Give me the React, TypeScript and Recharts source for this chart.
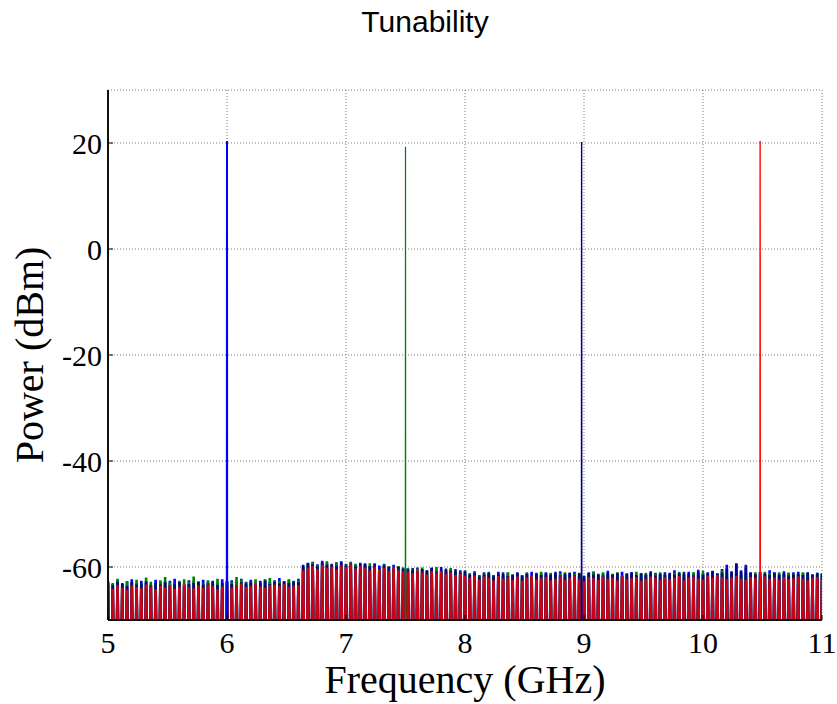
import { LineChart, Line, XAxis, YAxis, CartesianGrid } from 'recharts'

// sweep grid of the analyser (GHz) and the level the trace drops to between readings
const START_GHZ = 5
const STEP_GHZ = 0.04
const DIP_DBM = -100

const X_TICKS = [5, 6, 7, 8, 9, 10, 11]
const Y_TICKS = [-60, -40, -20, 0, 20]

// noise floor readings, one per sweep point (5.00 .. 11.00 GHz)
const BLUE_FLOOR = [
  -62.8, -63.2, -62.5, -63.0, -62.7, -62.3, -63.1, -62.6, -62.9, -63.3,
  -62.4, -62.8, -63.0, -62.6, -62.2, -62.9, -63.2, -62.5, -62.7, -63.0,
  -62.4, -62.8, -62.6, -63.1, -62.3, -62.9, -62.5, -62.7, -62.2, -62.8,
  -62.4, -63.0, -62.6, -62.3, -62.8, -62.5, -62.1, -62.7, -62.4, -62.6,
  -62.2,
  -59.6, -59.2, -59.0, -59.5, -58.8, -59.3, -59.7, -59.1, -58.9, -59.4,
  -59.0, -59.6, -59.2, -59.5, -59.8, -59.3, -59.7, -59.4, -60.0, -59.6,
  -59.9, -60.1,
  -60.3, -60.6, -60.1, -60.4, -60.8, -60.2, -60.5, -60.0, -60.7, -60.4,
  -60.9, -60.6, -61.0,
  -61.2, -60.8, -61.5, -61.0, -61.3, -61.6, -60.9, -61.4, -61.1, -61.5,
  -61.0, -61.7, -61.2, -60.9, -61.4, -61.3, -61.0, -61.6, -61.2, -60.8,
  -61.5, -61.1, -60.9, -61.4, -61.8, -61.2, -61.0, -61.5, -61.3, -60.7,
  -61.4, -61.1, -60.9, -61.3, -61.0, -61.6, -61.2, -61.4, -60.8, -61.1,
  -61.5, -61.0, -61.3, -60.6, -61.2, -61.4, -60.9, -61.1, -60.5, -61.3,
  -61.0, -60.7, -61.2, -60.4, -59.6, -60.8, -59.4, -60.9, -60.2, -61.0,
  -61.3, -60.9, -61.2, -60.6, -61.0, -61.4, -60.8, -61.1, -61.5, -60.9,
  -61.2, -61.0, -61.4, -61.1, -61.3,
]

const GREEN_FLOOR = [
  -62.6, -63.0, -62.2, -63.3, -62.7, -62.9, -62.4, -63.1, -62.0, -62.8,
  -63.2, -62.5, -61.9, -62.9, -63.0, -62.6, -62.3, -62.8, -61.8, -62.7,
  -63.1, -62.5, -62.9, -62.2, -63.0, -62.6, -62.8, -61.9, -62.4, -62.9,
  -62.7, -62.3, -63.0, -62.5, -62.1, -62.8, -62.6, -62.9, -62.3, -62.7,
  -62.5,
  -59.9, -59.4, -59.1, -59.7, -59.3, -58.9, -59.6, -59.2, -59.8, -59.5,
  -59.1, -59.4, -59.9, -59.6, -59.3, -59.8, -60.0, -59.5, -59.9, -60.2,
  -59.8, -60.3,
  -60.2, -60.7, -60.3, -60.1, -60.6, -60.4, -60.0, -60.8, -60.5, -60.2,
  -60.7, -60.9, -60.6,
  -61.4, -61.1, -61.6, -61.3, -60.9, -61.5, -61.2, -61.7, -61.0, -61.4,
  -61.2, -61.5, -61.0, -61.6, -61.3, -60.9, -61.4, -61.1, -61.7, -61.2,
  -61.0, -61.5, -61.3, -61.1, -61.6, -61.2, -60.8, -61.4, -61.0, -61.5,
  -61.3, -61.0, -61.6, -61.2, -61.4, -60.9, -61.3, -61.1, -61.5, -61.2,
  -61.0, -61.4, -61.6, -61.1, -60.9, -61.3, -61.5, -61.0, -61.2, -60.7,
  -61.4, -61.1, -61.3, -60.6, -61.0, -61.2, -60.8, -61.5, -61.1, -61.3,
  -61.0, -61.4, -60.9, -61.2, -61.5, -61.0, -61.3, -61.1, -61.4, -61.2,
  -61.0, -61.3, -61.5, -61.1, -61.2,
]

const NAVY_FLOOR = [
  -63.0, -63.4, -62.8, -63.2, -63.6, -62.9, -63.3, -63.1, -62.7, -63.5,
  -63.0, -63.3, -62.8, -63.4, -63.1, -62.9, -63.6, -63.2, -63.0, -62.8,
  -63.3, -63.1, -62.9, -63.4, -63.0, -62.7, -63.2, -63.5, -62.9, -63.1,
  -62.8, -63.3, -63.0, -62.6, -63.2, -62.9, -63.1, -62.7, -63.0, -62.8,
  -62.9,
  -59.8, -59.3, -59.5, -59.9, -59.2, -59.6, -59.4, -59.8, -59.1, -59.7,
  -59.4, -59.9, -59.5, -59.3, -59.8, -59.6, -60.1, -59.7, -59.9, -60.3,
  -60.0, -60.4,
  -60.5, -60.2, -60.8, -60.4, -60.6, -60.1, -60.9, -60.5, -60.3, -60.7,
  -60.4, -61.0, -60.8,
  -61.5, -61.2, -61.8, -61.4, -61.1, -61.6, -61.3, -61.0, -61.7, -61.4,
  -61.2, -61.6, -61.3, -61.8, -61.1, -61.5, -61.2, -61.4, -60.9, -61.6,
  -61.3, -61.1, -61.5, -61.2, -61.7, -61.0, -61.4, -61.3, -61.6, -61.1,
  -61.4, -61.2, -61.7, -61.3, -61.0, -61.5, -61.2, -61.4, -61.1, -61.6,
  -61.3, -61.5, -61.1, -61.4, -61.2, -60.9, -61.3, -61.6, -61.0, -61.4,
  -61.2, -60.8, -61.3, -61.1, -60.3, -61.0, -59.3, -60.6, -59.6, -61.1,
  -61.4, -61.0, -61.3, -61.5, -61.1, -61.4, -61.2, -61.6, -61.0, -61.3,
  -61.5, -61.1, -61.4, -61.2, -61.3,
]

const RED_FLOOR = [
  -63.6, -64.1, -63.4, -63.9, -64.3, -63.5, -63.8, -64.0, -63.3, -63.7,
  -64.2, -63.6, -63.9, -63.4, -64.1, -63.7, -63.2, -63.8, -64.0, -63.5,
  -63.9, -63.3, -63.6, -64.2, -63.7, -63.4, -63.9, -63.5, -63.1, -63.8,
  -63.6, -63.2, -63.7, -63.9, -63.4, -63.3, -63.6, -63.2, -63.8, -63.5,
  -63.4,
  -60.6, -60.1, -59.8, -60.4, -59.6, -60.2, -59.9, -60.5, -59.7, -60.0,
  -59.5, -60.3, -59.8, -60.1, -60.6, -59.9, -60.4, -60.2, -60.7, -60.1,
  -60.5, -60.8,
  -60.9, -61.2, -60.6, -61.0, -61.4, -60.8, -61.1, -60.7, -61.3, -61.0,
  -61.5, -61.2, -61.6,
  -62.0, -61.6, -62.3, -61.8, -62.1, -62.5, -61.7, -62.2, -61.9, -62.4,
  -61.8, -62.6, -62.0, -61.7, -62.3, -62.1, -61.9, -62.5, -62.2, -61.8,
  -62.4, -62.0, -61.6, -62.3, -62.7, -61.9, -62.1, -62.4, -61.8, -62.2,
  -62.0, -62.5, -61.7, -62.3, -62.1, -61.9, -62.6, -62.2, -61.8, -62.0,
  -62.4, -61.9, -62.3, -62.1, -61.7, -62.5, -62.0, -61.8, -62.2, -62.4,
  -61.6, -62.1, -61.5, -61.9, -62.3, -62.0, -61.7, -62.2, -62.4, -61.9,
  -62.1, -62.5, -61.8, -62.2, -62.0, -62.4, -61.9, -62.3, -62.1, -61.8,
  -62.2, -62.5, -62.0, -61.9, -62.3,
]

// [frequency GHz, level dBm] of each tone
const BLUE_PEAK: [number, number] = [6.0, 20.4]
const GREEN_PEAK: [number, number] = [7.5, 19.3]
const NAVY_PEAK: [number, number] = [8.98, 20.2]
const RED_PEAK: [number, number] = [10.48, 20.4]

type Pt = { f: number; p: number }

function buildFloor(floor: number[]): Pt[] {
  const pts: Pt[] = []
  floor.forEach((v, i) => {
    const f = START_GHZ + i * STEP_GHZ
    pts.push({ f, p: v })
    if (i < floor.length - 1) pts.push({ f: f + STEP_GHZ / 2, p: DIP_DBM })
  })
  return pts
}

function buildPeak([pf, pp]: [number, number]): Pt[] {
  return [{ f: pf - 0.002, p: DIP_DBM }, { f: pf, p: pp }, { f: pf + 0.002, p: DIP_DBM }]
}

const traces = [
  { name: 'blue', color: '#0000ff', floor: BLUE_FLOOR, peak: BLUE_PEAK, peakWidth: 2, opacity: 1 },
  { name: 'green', color: '#008000', floor: GREEN_FLOOR, peak: GREEN_PEAK, peakWidth: 1.2, opacity: 1 },
  { name: 'navy', color: '#000080', floor: NAVY_FLOOR, peak: NAVY_PEAK, peakWidth: 1.4, opacity: 0.9 },
  { name: 'red', color: '#ff0000', floor: RED_FLOOR, peak: RED_PEAK, peakWidth: 1.4, opacity: 0.78 },
]

const serif = "'Liberation Serif', 'Times New Roman', serif"
const TICK_LEN = 5

const BottomTick = ({ x, y, payload }: any) => (
  <g>
    <line x1={x} y1={y - 12} x2={x} y2={y - 12 - TICK_LEN} stroke="#000" />
    <text x={x} y={y} dy="0.71em" textAnchor="middle" fontFamily={serif} fontSize={30} fill="#000">
      {payload.value}
    </text>
  </g>
)

const LeftTick = ({ x, y, payload }: any) => (
  <g>
    <line x1={x + 6} y1={y} x2={x + 6 + TICK_LEN} y2={y} stroke="#000" />
    <text x={x} y={y} dy="0.38em" textAnchor="end" fontFamily={serif} fontSize={30} fill="#000">
      {payload.value}
    </text>
  </g>
)

const TopTick = ({ x, y }: any) => <line x1={x} y1={y} x2={x} y2={y + TICK_LEN} stroke="#000" />
const RightTick = ({ x, y }: any) => <line x1={x} y1={y} x2={x - TICK_LEN} y2={y} stroke="#000" />

const axisLine = { stroke: '#111', strokeWidth: 2 }

export default function App() {
  return (
    <div style={{ position: 'absolute', left: 0, top: 0, width: 837, height: 704, background: '#fff' }}>
      <div
        style={{
          position: 'absolute', left: 325, top: 7, width: 200, textAlign: 'center',
          fontFamily: "'Liberation Sans', Arial, sans-serif", fontSize: 30, lineHeight: '30px', color: '#000',
        }}
      >
        Tunability
      </div>
      <LineChart width={837} height={704} margin={{ top: 90, right: 15, bottom: 0, left: 0 }}>
        <CartesianGrid stroke="#7a7a7a" strokeDasharray="1 2" />
        <XAxis
          xAxisId="top" orientation="top" height={0} dataKey="f" type="number" domain={[5, 11]}
          ticks={X_TICKS} interval={0} allowDataOverflow tickSize={0} tickMargin={0} tickLine={false}
          axisLine={axisLine} tick={<TopTick />}
        />
        <XAxis
          dataKey="f" type="number" domain={[5, 11]} ticks={X_TICKS} interval={0} allowDataOverflow
          height={84} tickSize={0} tickMargin={12} tickLine={false} axisLine={axisLine} tick={<BottomTick />}
          label={({ viewBox }: any) => (
            <text x={viewBox.x + viewBox.width / 2} y={viewBox.y + 73} textAnchor="middle" fontFamily={serif} fontSize={40} fill="#000">
              Frequency (GHz)
            </text>
          )}
        />
        <YAxis
          type="number" domain={[-70, 30]} ticks={Y_TICKS} interval={0} allowDataOverflow width={108}
          tickSize={0} tickMargin={6} tickLine={false} axisLine={axisLine} tick={<LeftTick />}
          label={({ viewBox }: any) => {
            const cx = viewBox.x + 43
            const cy = viewBox.y + viewBox.height / 2
            return (
              <text x={cx} y={cy} transform={`rotate(-90, ${cx}, ${cy})`} textAnchor="middle" fontFamily={serif} fontSize={40} fill="#000">
                Power (dBm)
              </text>
            )
          }}
        />
        <YAxis
          yAxisId="right" orientation="right" type="number" domain={[-70, 30]} ticks={Y_TICKS} interval={0}
          allowDataOverflow width={0} tickSize={0} tickMargin={0} tickLine={false} axisLine={axisLine} tick={<RightTick />}
        />
        {traces.map(t => (
          <Line
            key={t.name + '-floor'} data={buildFloor(t.floor)} dataKey="p" type="linear" stroke={t.color}
            strokeOpacity={t.opacity} strokeWidth={2.6} strokeLinejoin="bevel" dot={false} activeDot={false}
            isAnimationActive={false}
          />
        ))}
        {traces.map(t => (
          <Line
            key={t.name + '-peak'} data={buildPeak(t.peak)} dataKey="p" type="linear" stroke={t.color}
            strokeWidth={t.peakWidth} dot={false} activeDot={false} isAnimationActive={false}
          />
        ))}
      </LineChart>
    </div>
  )
}
